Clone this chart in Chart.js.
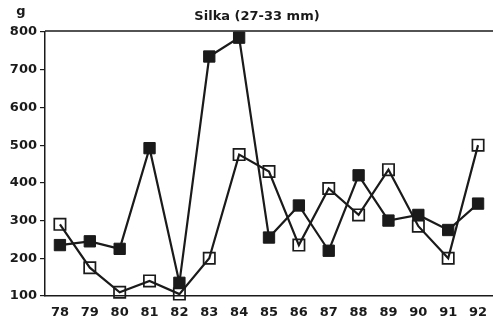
<!DOCTYPE html>
<html>
<head>
<meta charset="utf-8">
<script src="https://cdn.jsdelivr.net/npm/chart.js@4/dist/chart.umd.min.js"></script>
<style>
  html, body { margin: 0; padding: 0; background: #fff; }
  #wrap { width: 493px; height: 321px; position: relative; }
</style>
</head>
<body>
<div id="wrap"><canvas id="c" width="493" height="321"></canvas></div>
<script>
// Catch years (19xx) and mean weights in grams
const years = ['78','79','80','81','82','83','84','85','86','87','88','89','90','91','92'];
const filledSeries = [235, 245, 225, 492, 135, 735, 785, 255, 340, 220, 420, 300, 315, 275, 345];
const openSeries   = [290, 175, 110, 140, 105, 200, 475, 430, 235, 385, 315, 435, 285, 200, 500];
const yTicks = [100, 200, 300, 400, 500, 600, 700, 800];
const titleText = 'Silka (27-33 mm)';
const unitText = 'g';

const ink = '#1a1a1a';
const fontFamily = '"DejaVu Sans", Arial, sans-serif';

// Frame line along the top of the plot, plus the title and unit label
const decorations = {
  id: 'decorations',
  afterDraw(chart) {
    const { ctx, chartArea } = chart;
    ctx.save();
    ctx.strokeStyle = ink;
    ctx.lineWidth = 1.5;
    ctx.beginPath();
    ctx.moveTo(chartArea.left, chartArea.top - 1);
    ctx.lineTo(chartArea.right, chartArea.top - 1);
    ctx.stroke();

    ctx.fillStyle = ink;
    ctx.font = 'bold 13px ' + fontFamily;
    ctx.textBaseline = 'middle';
    ctx.textAlign = 'center';
    ctx.fillText(titleText, 257, 17);
    ctx.fillText(unitText, 21, 12);
    ctx.restore();
  }
};

new Chart(document.getElementById('c'), {
  type: 'line',
  data: {
    labels: years,
    datasets: [
      {
        data: filledSeries,
        borderColor: ink,
        borderWidth: 2.2,
        pointStyle: 'rect',
        pointRadius: 8,
        pointBackgroundColor: ink,
        pointBorderColor: ink,
        pointBorderWidth: 1,
        tension: 0,
        clip: false
      },
      {
        data: openSeries,
        borderColor: ink,
        borderWidth: 2.2,
        pointStyle: 'rect',
        pointRadius: 8,
        pointBackgroundColor: 'rgba(255,255,255,0)',
        pointBorderColor: ink,
        pointBorderWidth: 1.7,
        tension: 0,
        clip: false
      }
    ]
  },
  options: {
    responsive: false,
    animation: false,
    devicePixelRatio: 1,
    layout: { autoPadding: false, padding: { top: 32, right: 0, left: 0, bottom: 0 } },
    plugins: {
      legend: { display: false },
      tooltip: { enabled: false },
      title: { display: false }
    },
    scales: {
      x: {
        type: 'category',
        offset: true,
        grid: { display: false },
        border: { display: true, color: ink, width: 1.5 },
        ticks: {
          color: ink,
          font: { family: fontFamily, size: 13, weight: 'bold' },
          padding: 1,
          maxRotation: 0,
          autoSkip: false
        },
        afterFit(scale) {
          scale.height = 25;
          scale.paddingLeft = 0;
          scale.paddingRight = 0;
        }
      },
      y: {
        min: 100,
        max: 800,
        afterBuildTicks(scale) { scale.ticks = yTicks.map(v => ({ value: v })); },
        grid: {
          drawOnChartArea: false,
          drawTicks: true,
          tickLength: 5,
          color: ink,
          lineWidth: 1.2
        },
        border: { display: true, color: ink, width: 1.5 },
        ticks: {
          color: ink,
          font: { family: fontFamily, size: 13, weight: 'bold' },
          padding: 3
        },
        afterFit(scale) {
          scale.width = 45;
          scale.paddingTop = 0;
          scale.paddingBottom = 0;
        }
      }
    }
  },
  plugins: [decorations]
});
</script>
</body>
</html>
